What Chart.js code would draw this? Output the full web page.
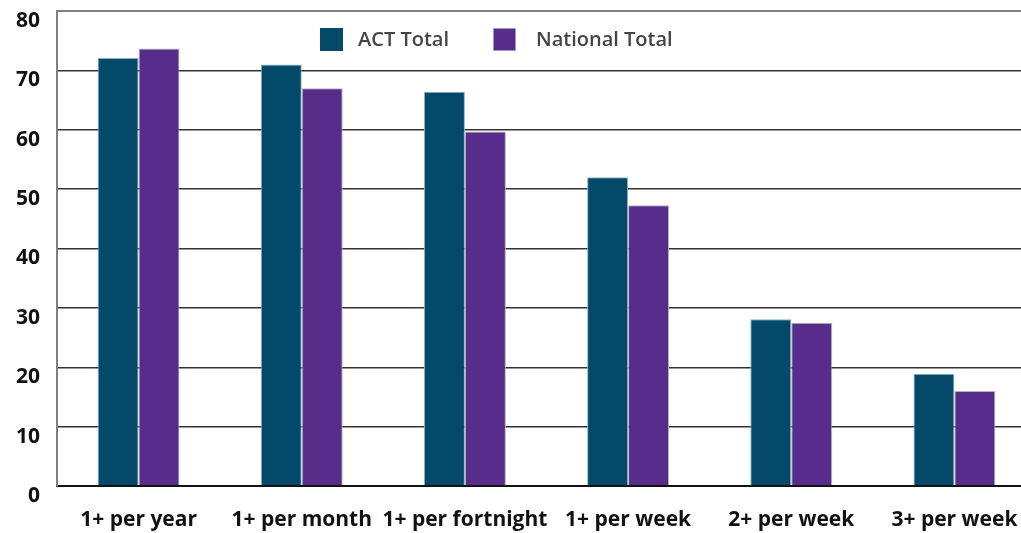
<!DOCTYPE html>
<html>
<head>
<meta charset="utf-8">
<script src="https://cdn.jsdelivr.net/npm/chart.js@4/dist/chart.umd.min.js"></script>
<style>
  html, body { margin: 0; padding: 0; background: #fff; overflow: hidden; }
  #wrap { position: relative; width: 1036px; height: 533px; }
  .lg-box { position: absolute; width: 23px; height: 23px; box-sizing: border-box; }
  .lg-txt { position: absolute; font-family: "Open Sans", sans-serif; font-weight: 600; font-size: 20px; color: #444; line-height: 24px; white-space: nowrap; }
</style>
</head>
<body>
<div id="wrap">
  <canvas id="c" width="1036" height="533"></canvas>
  <div class="lg-box" style="left:320px; top:28px; background:#02496a;"></div>
  <div class="lg-txt" style="left:358px; top:27px;">ACT Total</div>
  <div class="lg-box" style="left:493px; top:28px; background:#582c8b; border:1px solid #a895c4;"></div>
  <div class="lg-txt" style="left:536px; top:27px;">National Total</div>
</div>
<script>
const categories = ['1+ per year', '1+ per month', '1+ per fortnight', '1+ per week', '2+ per week', '3+ per week'];
const actTotal = [72.1, 71.0, 66.4, 52.0, 28.1, 18.9];
const nationalTotal = [73.7, 67.0, 59.7, 47.3, 27.5, 16.0];
const seriesNames = ['ACT Total', 'National Total'];

const tickFont = { family: '"Open Sans", sans-serif', weight: '700', size: 21 };

new Chart(document.getElementById('c'), {
  type: 'bar',
  data: {
    labels: categories,
    datasets: [
      { label: seriesNames[0], data: actTotal, backgroundColor: '#02496a', borderColor: '#8fb0bf', borderWidth: 1 },
      { label: seriesNames[1], data: nationalTotal, backgroundColor: '#582c8b', borderColor: '#b5b5b5', borderWidth: 1 }
    ]
  },
  options: {
    responsive: false,
    animation: false,
    layout: { padding: { top: 11, left: 0, right: 0, bottom: 0 } },
    datasets: { bar: { categoryPercentage: 0.502, barPercentage: 1.0 } },
    plugins: { legend: { display: false }, tooltip: { enabled: false } },
    scales: {
      x: {
        grid: { display: false, drawTicks: false },
        border: { display: true, color: '#111', width: 2 },
        ticks: { color: '#111', font: tickFont, padding: 21, maxRotation: 0, autoSkip: false },
        afterFit: (s) => { s.height = 47; s.paddingLeft = 0; s.paddingRight = 0; }
      },
      y: {
        min: 0, max: 80,
        grid: {
          drawTicks: false,
          color: (ctx) => ctx.tick && ctx.tick.value === 80 ? '#808080' : '#333',
          lineWidth: (ctx) => ctx.tick && ctx.tick.value === 80 ? 2 : 1.5
        },
        border: { display: true, color: '#808080', width: 2 },
        ticks: { stepSize: 10, color: '#111', font: tickFont, padding: 17, labelOffset: 10 },
        afterFit: (s) => { s.width = 57; s.paddingTop = 0; s.paddingBottom = 0; }
      }
    }
  }
});
</script>
</body>
</html>
